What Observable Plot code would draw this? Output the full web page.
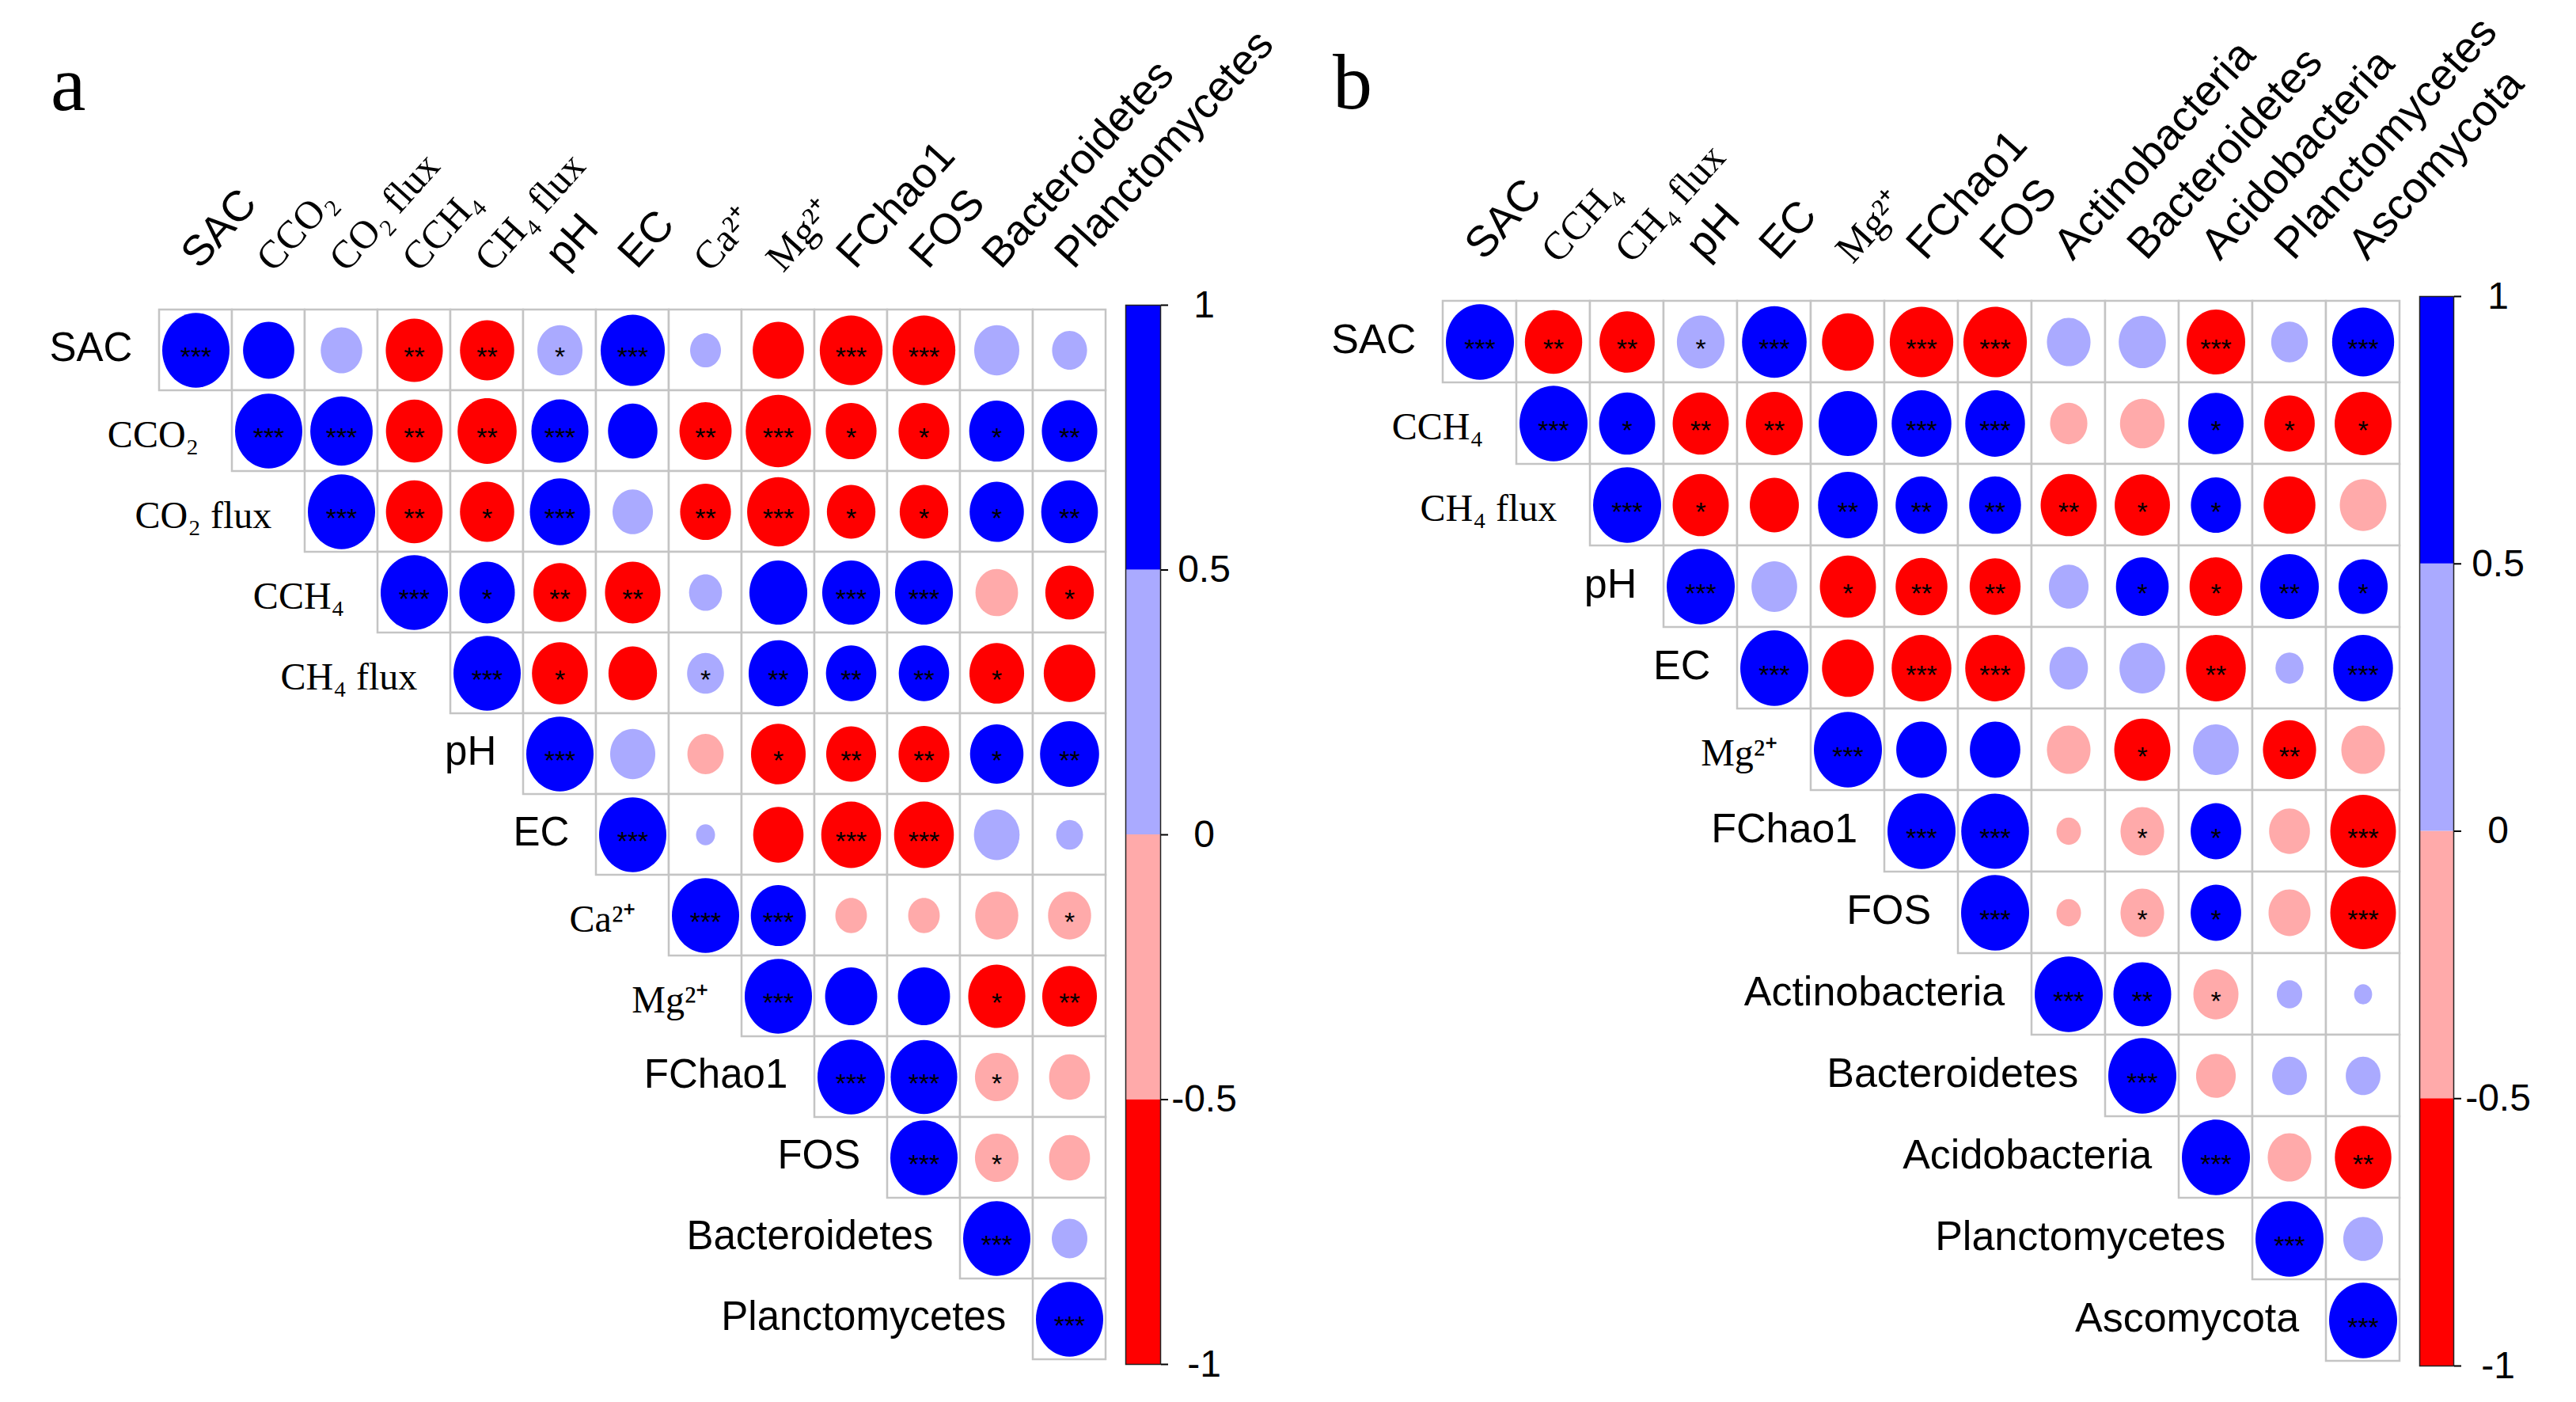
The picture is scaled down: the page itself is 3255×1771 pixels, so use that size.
<!DOCTYPE html>
<html><head><meta charset="utf-8">
<script src="https://cdn.jsdelivr.net/npm/d3@7"></script>
<script src="https://cdn.jsdelivr.net/npm/@observablehq/plot@0.6"></script>
<style>
html,body{margin:0;padding:0;background:#fff;}
#page{position:relative;width:3255px;height:1771px;overflow:hidden;background:#fff;}
.abs{position:absolute;top:0;}
.letter{position:absolute;font-family:"Liberation Serif",serif;font-size:100px;line-height:100px;color:#000;}
</style></head><body>
<div id="page"></div>
<script>
// ---------- data ----------
const labelsA = ["SAC","CCO₂","CO₂ flux","CCH₄","CH₄ flux","pH","EC","Ca²⁺","Mg²⁺","FChao1","FOS","Bacteroidetes","Planctomycetes"];
// upper triangle rows, each starting at the diagonal
const corrA = [
  [1, 0.58, 0.38, -0.72, -0.65, 0.45, 0.91, 0.21, -0.58, -0.87, -0.87, 0.45, 0.27],
  [1, 0.86, -0.71, -0.77, 0.72, 0.54, -0.60, -0.94, -0.57, -0.57, 0.67, 0.68],
  [1, -0.71, -0.65, 0.80, 0.36, -0.57, -0.86, -0.52, -0.52, 0.65, 0.71],
  [1, 0.68, -0.62, -0.68, 0.24, 0.74, 0.74, 0.74, -0.40, -0.52],
  [1, -0.69, -0.52, 0.30, 0.78, 0.56, 0.56, -0.66, -0.59],
  [1, 0.45, -0.29, -0.66, -0.55, -0.57, 0.63, 0.77],
  [1, 0.08, -0.56, -0.79, -0.79, 0.46, 0.16],
  [1, 0.67, -0.22, -0.22, -0.41, -0.41],
  [1, 0.60, 0.60, -0.72, -0.66],
  [1, 0.98, -0.42, -0.37],
  [1, -0.42, -0.37],
  [1, 0.28],
  [1]
];
const sigA = [
  ["***","","","**","**","*","***","","","***","***","",""],
  ["***","***","**","**","***","","**","***","*","*","*","**"],
  ["***","**","*","***","","**","***","*","*","*","**"],
  ["***","*","**","**","","","***","***","","*"],
  ["***","*","","*","**","**","**","*",""],
  ["***","","","*","**","**","*","**"],
  ["***","","","***","***","",""],
  ["***","***","","","","*"],
  ["***","","","*","**"],
  ["***","***","*",""],
  ["***","*",""],
  ["***",""],
  ["***"]
];

const labelsB = ["SAC","CCH₄","CH₄ flux","pH","EC","Mg²⁺","FChao1","FOS","Actinobacteria","Bacteroidetes","Acidobacteria","Planctomycetes","Ascomycota"];
const corrB = [
  [1, -0.71, -0.66, 0.49, 0.90, -0.58, -0.87, -0.87, 0.41, 0.48, -0.74, 0.29, 0.83],
  [1, 0.68, -0.68, -0.70, 0.74, 0.77, 0.77, -0.30, -0.43, 0.66, -0.55, -0.70],
  [1, -0.68, -0.52, 0.77, 0.58, 0.58, -0.68, -0.66, 0.54, -0.58, -0.47],
  [1, 0.45, -0.68, -0.58, -0.56, 0.34, 0.60, -0.60, 0.74, 0.52],
  [1, -0.58, -0.77, -0.77, 0.32, 0.45, -0.77, 0.17, 0.77],
  [1, 0.55, 0.55, -0.41, -0.68, 0.45, -0.61, -0.41],
  [1, 0.99, -0.13, -0.41, 0.55, -0.36, -0.93],
  [1, -0.13, -0.41, 0.55, -0.38, -0.93],
  [1, 0.72, -0.44, 0.14, 0.07],
  [1, -0.34, 0.26, 0.26],
  [1, -0.41, -0.69],
  [1, 0.34],
  [1]
];
const sigB = [
  ["***","**","**","*","***","","***","***","","","***","","***"],
  ["***","*","**","**","","***","***","","","*","*","*"],
  ["***","*","","**","**","**","**","*","*","",""],
  ["***","","*","**","**","","*","*","**","*"],
  ["***","","***","***","","","**","","***"],
  ["***","","","","*","","**",""],
  ["***","***","","*","*","","***"],
  ["***","","*","*","","***"],
  ["***","**","*","",""],
  ["***","","",""],
  ["***","","**"],
  ["***",""],
  ["***"]
];

const colorBreaks = [-0.5, 0, 0.5];
const colorRange = ["#FF0000", "#FFAAAA", "#AAAAFF", "#0000FF"];
const barTicks = [-1, -0.5, 0, 0.5, 1];
const panelLetters = ["a", "b"];

// ---------- drawing ----------
const serifLabels = new Set(["CCO₂","CO₂ flux","CCH₄","CH₄ flux","Ca²⁺","Mg²⁺"]);
const colorScale = {type: "threshold", domain: colorBreaks, range: colorRange};

function ellipseSymbol(ratio) {
  return {
    draw(context, size) {
      const rx = Math.sqrt(size / Math.PI), ry = rx * ratio, k = 0.5522847498;
      context.moveTo(rx, 0);
      context.bezierCurveTo(rx, k * ry, k * rx, ry, 0, ry);
      context.bezierCurveTo(-k * rx, ry, -rx, k * ry, -rx, 0);
      context.bezierCurveTo(-rx, -k * ry, -k * rx, -ry, 0, -ry);
      context.bezierCurveTo(k * rx, -ry, rx, -k * ry, rx, 0);
      context.closePath();
    }
  };
}

function corrPanel(labels, rows, sigs, g) {
  const n = labels.length;
  const cells = [];
  rows.forEach((row, i) => row.forEach((v, k) => cells.push({x: labels[i + k], y: labels[i], v, sig: sigs[i][k]})));
  const cellW = (g.width - g.ml - g.mr) / n;
  const isSerif = d => serifLabels.has(d);
  const isSans = d => !serifLabels.has(d);
  return Plot.plot({
    width: g.width, height: g.height,
    marginLeft: g.ml, marginRight: g.mr, marginTop: g.mt, marginBottom: g.mb,
    x: {domain: labels, padding: 0, axis: null},
    y: {domain: labels, padding: 0, axis: null},
    color: colorScale,
    r: {type: "sqrt", domain: [0, 1], range: [0, g.rmax]},
    style: {background: "transparent", overflow: "visible"},
    marks: [
      Plot.cell(cells, {x: "x", y: "y", fill: "white", stroke: "#c4c4c4", strokeWidth: 2.5, inset: 0}),
      Plot.dot(cells, {x: "x", y: "y", r: d => Math.abs(d.v), fill: "v", symbol: ellipseSymbol(g.ratio)}),
      Plot.text(cells.filter(d => d.sig), {x: "x", y: "y", text: "sig", fontSize: 34, fontFamily: "Liberation Sans", dy: 9, fill: "black"}),
      Plot.text(labels.filter(isSans), {x: d => d, y: d => d, dx: -(cellW / 2 + 34), dy: -3, textAnchor: "end", fontSize: g.labelSize, fontFamily: "Liberation Sans", fill: "black"}),
      Plot.text(labels.filter(isSerif), {x: d => d, y: d => d, dx: -(cellW / 2 + 42), dy: 5, textAnchor: "end", fontSize: 48, fontFamily: "Liberation Serif", fill: "black"}),
      Plot.text(labels.filter(isSans), {x: d => d, frameAnchor: "top", dx: 5, dy: -44, rotate: -48, textAnchor: "start", lineAnchor: "bottom", fontSize: g.labelSize + 3, fontFamily: "Liberation Sans", fill: "black"}),
      Plot.text(labels.filter(isSerif), {x: d => d, frameAnchor: "top", dx: 6, dy: -40, rotate: -48, textAnchor: "start", lineAnchor: "bottom", fontSize: 50, fontFamily: "Liberation Serif", fill: "black"})
    ]
  });
}

function colorBar(g) {
  const bins = d3.pairs(barTicks);
  return Plot.plot({
    width: g.width, height: g.height,
    marginLeft: 1, marginRight: g.width - g.barW - 1, marginTop: g.mt, marginBottom: g.mb,
    x: {domain: [0, 1], axis: null},
    y: {domain: [-1, 1], axis: null},
    color: colorScale,
    style: {background: "transparent", overflow: "visible", fontSize: "48px", fontFamily: "Liberation Sans", color: "black"},
    marks: [
      Plot.rect(bins, {x1: () => 0, x2: () => 1, y1: d => d[0], y2: d => d[1], fill: d => (d[0] + d[1]) / 2}),
      Plot.frame({stroke: "#222", strokeWidth: 1.5}),
      Plot.axisY(barTicks, {anchor: "right", tickSize: 9, tickPadding: g.labelOffset - 9, textAnchor: "middle", tickFormat: d => String(d), strokeWidth: 2})
    ]
  });
}

const page = document.getElementById("page");
function place(node, left) {
  const wrap = document.createElement("div");
  wrap.className = "abs";
  wrap.style.left = left + "px";
  wrap.appendChild(node);
  page.appendChild(wrap);
}
function letter(txt, left, top) {
  const d = document.createElement("div");
  d.className = "letter";
  d.style.left = left + "px";
  d.style.top = top + "px";
  d.textContent = txt;
  page.appendChild(d);
}

place(corrPanel(labelsA, corrA, sigA, {width: 1650, height: 1771, ml: 198, mr: 251, mt: 385, mb: 48, rmax: 42.5, ratio: 1.11, labelSize: 51}), 0);
place(corrPanel(labelsB, corrB, sigB, {width: 1605, height: 1771, ml: 169, mr: 220, mt: 374, mb: 46, rmax: 43, ratio: 1.11, labelSize: 52}), 1650);
place(colorBar({width: 200, height: 1771, barW: 44, mt: 385, mb: 48, labelOffset: 55}), 1421);
place(colorBar({width: 199, height: 1771, barW: 43, mt: 374, mb: 46, labelOffset: 56}), 3056);
letter(panelLetters[0], 64, 56);
letter(panelLetters[1], 1684, 54);
</script>
</body></html>
